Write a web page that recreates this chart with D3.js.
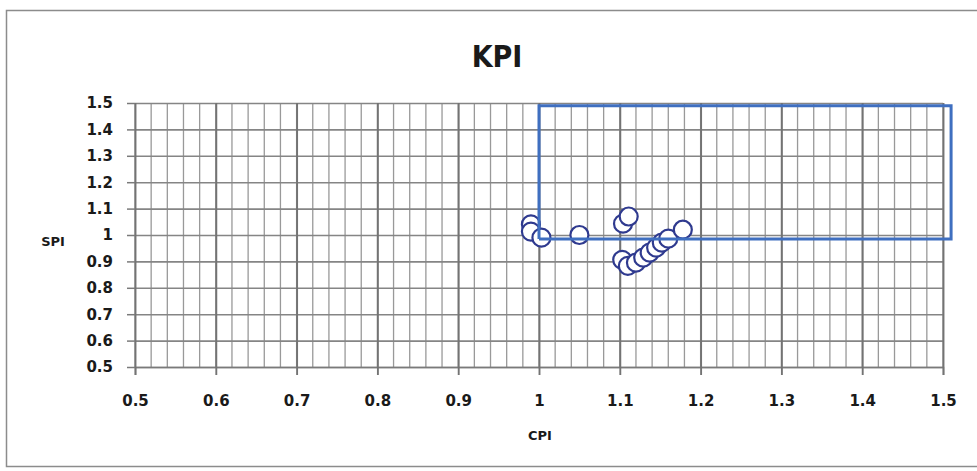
<!DOCTYPE html>
<html>
<head>
<meta charset="utf-8">
<script src="https://cdn.jsdelivr.net/npm/d3@7"></script>
<style>
  body { margin: 0; background: #fff; }
  svg text { fill: #1a1a1a; }
</style>
</head>
<body>
<div id="chart"></div>
<script>
// data
var cpi = [0.99, 0.99, 1.003, 1.05, 1.104, 1.111, 1.103, 1.110, 1.120, 1.129, 1.137, 1.145, 1.152, 1.160, 1.178];
var spi = [1.04, 1.013, 0.99, 1.0, 1.043, 1.07, 0.906, 0.883, 0.895, 0.914, 0.933, 0.952, 0.971, 0.986, 1.02];

// the blue target box
var boxCpi = [1, 1.51, 1.51, 1, 1];
var boxSpi = [0.985, 0.985, 1.49, 1.49, 0.985];

var xTicks = [0.5, 0.6, 0.7, 0.8, 0.9, 1, 1.1, 1.2, 1.3, 1.4, 1.5];
var yTicks = [0.5, 0.6, 0.7, 0.8, 0.9, 1, 1.1, 1.2, 1.3, 1.4, 1.5];
var xMinor = d3.range(0, 51).map(function (i) { return 0.5 + i * 0.02; });

var W = 977, H = 471;
var margin = { top: 103, right: 34, bottom: 104, left: 135 },
    width = W - margin.left - margin.right,
    height = H - margin.top - margin.bottom;

var x = d3.scaleLinear().domain([0.5, 1.5]).range([0, width]);
var y = d3.scaleLinear().domain([0.5, 1.5]).range([height, 0]);

var svg = d3.select("#chart").append("svg")
    .attr("width", W)
    .attr("height", H);

// chart frame
svg.append("rect")
    .attr("x", 6.5).attr("y", 10.5)
    .attr("width", 975).attr("height", 456)
    .attr("fill", "none")
    .attr("stroke", "#8c8c8c")
    .attr("stroke-width", 1.5);

svg.append("text")
    .attr("x", 497).attr("y", 67)
    .attr("text-anchor", "middle")
    .style("font-family", "'DejaVu Sans Condensed', 'DejaVu Sans', sans-serif")
    .style("font-stretch", "condensed")
    .style("font-weight", "bold")
    .style("font-size", "30px")
    .text("KPI");

var g = svg.append("g")
    .attr("transform", "translate(" + margin.left + "," + margin.top + ")");

// minor vertical gridlines
g.append("g")
    .attr("class", "grid")
    .selectAll("line")
    .data(xMinor)
    .enter().append("line")
    .attr("x1", function (d) { return x(d); })
    .attr("x2", function (d) { return x(d); })
    .attr("y1", 0).attr("y2", height)
    .attr("stroke", "#999999")
    .attr("stroke-width", 1.3);

// horizontal gridlines
g.append("g")
    .call(d3.axisLeft(y).tickValues(yTicks).tickSize(-width).tickFormat(""))
    .call(function (s) {
        s.select(".domain").remove();
        s.selectAll("line").attr("stroke", "#858585").attr("stroke-width", 1.6);
    });

// major vertical gridlines
g.append("g")
    .call(d3.axisBottom(x).tickValues(xTicks).tickSize(height).tickFormat(""))
    .call(function (s) {
        s.select(".domain").remove();
        s.selectAll("line").attr("stroke", "#737373").attr("stroke-width", 1.9);
    });

// x axis
g.append("g")
    .attr("transform", "translate(0," + height + ")")
    .call(d3.axisBottom(x).tickValues(xTicks).tickSize(8).tickPadding(20)
        .tickFormat(function (d) { return d3.format("")(d); }))
    .call(function (s) {
        s.select(".domain").attr("stroke", "#7a7a7a").attr("stroke-width", 1.5);
        s.selectAll("line").attr("stroke", "#737373").attr("stroke-width", 1.9);
        s.selectAll("text")
            .style("font-family", "'DejaVu Sans', sans-serif")
            .style("font-weight", "bold")
            .style("font-size", "15px")
            .attr("fill", "#1a1a1a");
    });

// y axis
g.append("g")
    .call(d3.axisLeft(y).tickValues(yTicks).tickSize(8).tickPadding(14)
        .tickFormat(function (d) { return d3.format("")(d); }))
    .call(function (s) {
        s.select(".domain").remove();
        s.selectAll("line").attr("stroke", "#7a7a7a").attr("stroke-width", 1.5);
        s.selectAll("text")
            .style("font-family", "'DejaVu Sans', sans-serif")
            .style("font-weight", "bold")
            .style("font-size", "15px")
            .attr("fill", "#1a1a1a");
    });

// axis titles
svg.append("text")
    .attr("x", 540).attr("y", 440)
    .attr("text-anchor", "middle")
    .style("font-family", "'DejaVu Sans', sans-serif")
    .style("font-weight", "bold")
    .style("font-size", "13px")
    .text("CPI");

svg.append("text")
    .attr("x", 53).attr("y", 246)
    .attr("text-anchor", "middle")
    .style("font-family", "'DejaVu Sans', sans-serif")
    .style("font-weight", "bold")
    .style("font-size", "13px")
    .text("SPI");

// points
var points = cpi.map(function (d, i) { return { cpi: d, spi: spi[i] }; });
g.selectAll("circle.pt")
    .data(points)
    .enter().append("circle")
    .attr("class", "pt")
    .attr("cx", function (d) { return x(d.cpi); })
    .attr("cy", function (d) { return y(d.spi); })
    .attr("r", 9)
    .attr("fill", "#ffffff")
    .attr("stroke", "#2f3a8f")
    .attr("stroke-width", 2.2);

// target box
var box = boxCpi.map(function (d, i) { return { cpi: d, spi: boxSpi[i] }; });
var boxLine = d3.line()
    .x(function (d) { return x(d.cpi); })
    .y(function (d) { return y(d.spi); });
g.append("path")
    .datum(box)
    .attr("d", boxLine)
    .attr("fill", "none")
    .attr("stroke", "#3f6fc0")
    .attr("stroke-width", 3);
</script>
</body>
</html>
